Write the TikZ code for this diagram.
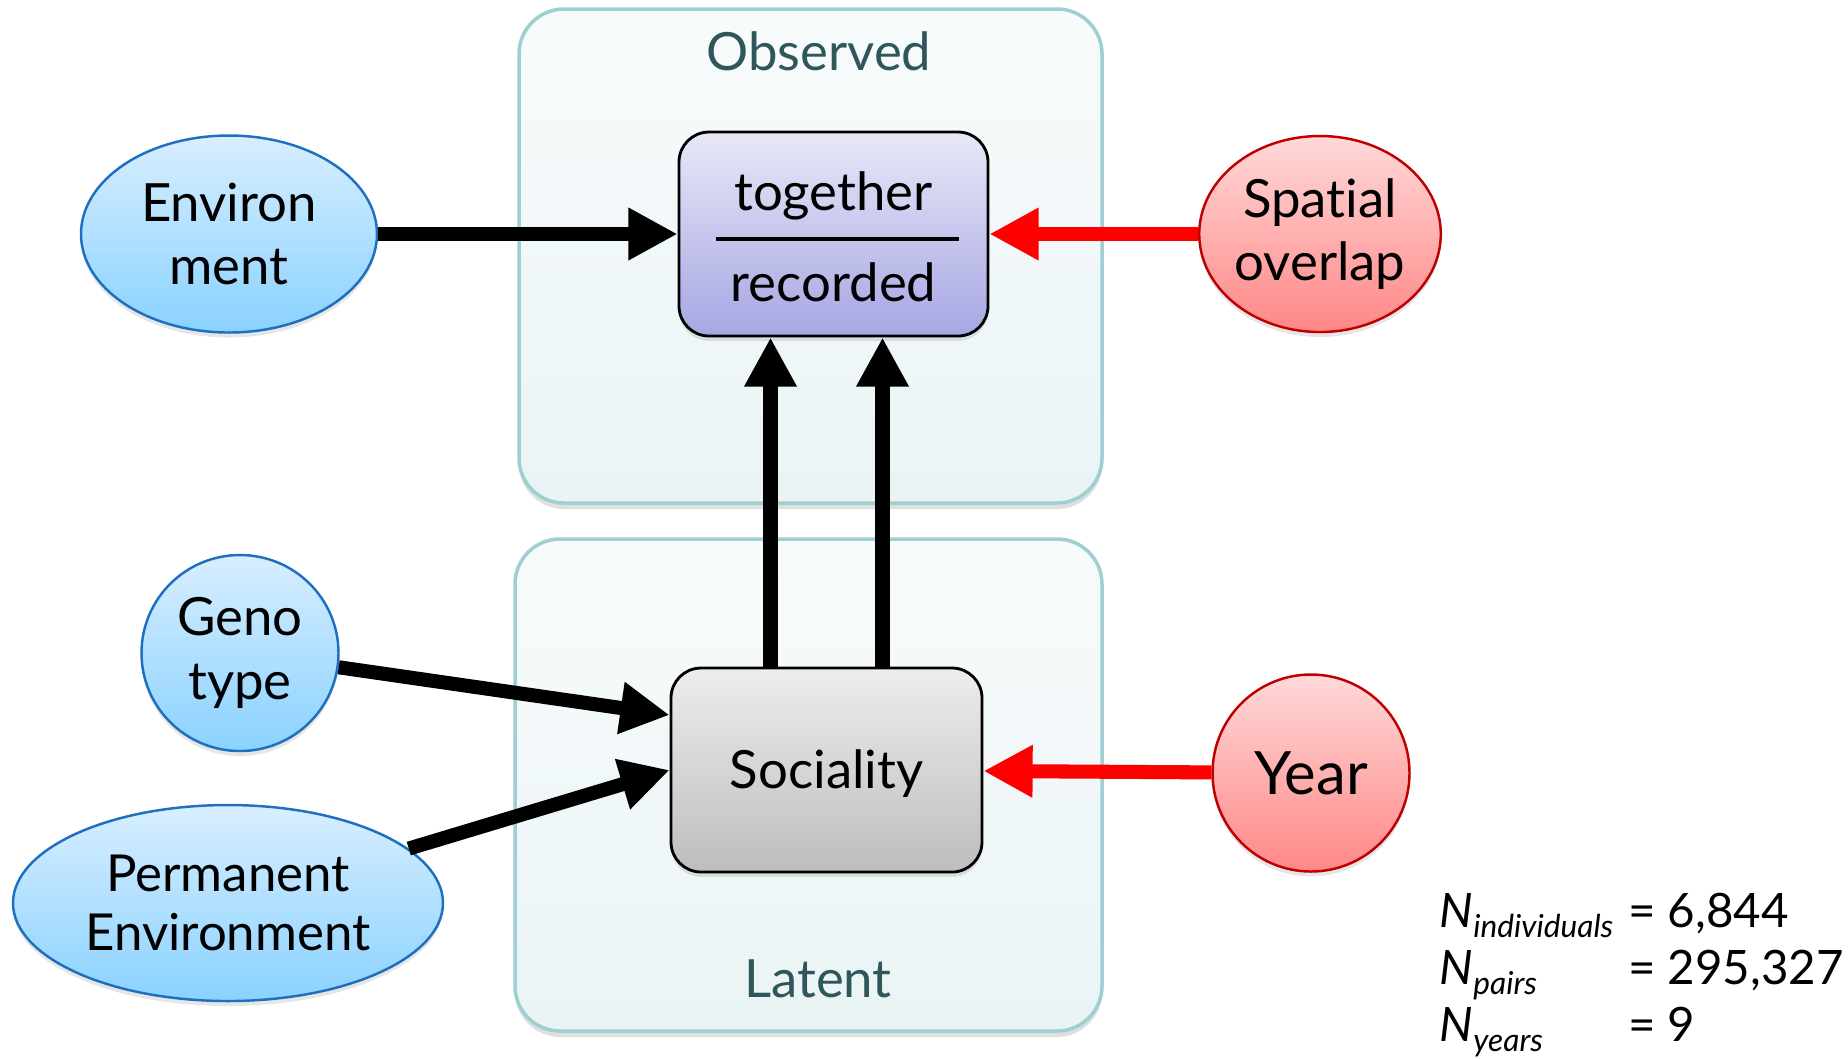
\documentclass[tikz,border=0pt]{standalone}
\usepackage{fontspec}
\setmainfont{Lato}[Ligatures={NoCommon,NoRare,NoContextual}, RawFeature={-liga;-clig;-dlig;-calt}]
\usetikzlibrary{shapes.geometric, arrows.meta, shadows, positioning}

\definecolor{panelline}{HTML}{9FCED3}
\definecolor{paneltop}{HTML}{F8FBFC}
\definecolor{panelbot}{HTML}{EAF4F5}
\definecolor{paneltext}{HTML}{2F575B}
\definecolor{bluetop}{HTML}{D8EEFF}
\definecolor{bluebot}{HTML}{8AD2FF}
\definecolor{blueline}{HTML}{1F6FC0}
\definecolor{redtop}{HTML}{FFD9D9}
\definecolor{redbot}{HTML}{FF8787}
\definecolor{redline}{HTML}{C00000}
\definecolor{obstop}{HTML}{E8E8F8}
\definecolor{obsbot}{HTML}{A6A6E4}
\definecolor{soctop}{HTML}{EDEDED}
\definecolor{socbot}{HTML}{BDBDBD}

\newcommand{\subtxt}[1]{\smash{\raisebox{-0.1cm}{\fontsize{9pt}{10pt}\selectfont\textit{#1}}}}

\begin{document}
\begin{tikzpicture}[
    panel/.style={rectangle, draw=panelline, line width=1pt, rounded corners=0.45cm, top color=paneltop, bottom color=panelbot, drop shadow={opacity=0.25, shadow xshift=0pt, shadow yshift=-0.06cm}},
    paneltitle/.style={text=paneltext, font=\fontsize{15pt}{18pt}\selectfont},
    varbox/.style={rectangle, draw=black, line width=0.8pt, rounded corners=0.3cm, drop shadow={opacity=0.2, shadow xshift=0pt, shadow yshift=-0.05cm}},
    cause/.style={ellipse, inner sep=0pt, line width=0.7pt, align=center, font=\fontsize{15pt}{18pt}\selectfont, drop shadow={opacity=0.2, shadow xshift=0pt, shadow yshift=-0.05cm}},
    bluecause/.style={cause, draw=blueline, top color=bluetop, bottom color=bluebot},
    redcause/.style={cause, draw=redline, top color=redtop, bottom color=redbot},
    txt/.style={font=\fontsize{15pt}{18pt}\selectfont},
    effect/.style={-{Triangle[length=14pt, width=14pt]}, line width=4pt},
    redeffect/.style={effect, red}
]
\useasboundingbox (0,0) rectangle (18.48,-10.58);

% Panels
\node[panel, minimum width=5.83cm, minimum height=4.94cm] (observed) at (8.105,-2.56) {};
\node[panel, minimum width=5.87cm, minimum height=4.92cm] (latent) at (8.085,-7.85) {};
\node[paneltitle] (obstitle) at (8.19,-0.51) {Observed};
\node[paneltitle] (lattitle) at (8.18,-9.79) {Latent};

% Response variables
\node[varbox, top color=obstop, bottom color=obsbot, minimum width=3.09cm, minimum height=2.04cm] (tog) at (8.335,-2.34) {};
\node[txt] (togtop) at ([yshift=0.38cm]tog.center) {together};
\node[txt] (togbot) at ([yshift=-0.48cm]tog.center) {recorded};
\draw[line width=1.2pt] ([xshift=-1.18cm, yshift=-0.05cm]tog.center) -- ([xshift=1.25cm, yshift=-0.05cm]tog.center);

\node[varbox, top color=soctop, bottom color=socbot, minimum width=3.11cm, minimum height=2.04cm] (soc) at (8.265,-7.70) {};
\node[txt] (soctxt) at ([yshift=-0.04cm]soc.center) {Sociality};

% Causes (left)
\node[bluecause, minimum width=2.96cm, minimum height=1.97cm] (env) at (2.29,-2.34) {\raisebox{-0.04cm}{Environ}\\\raisebox{-0.04cm}{ment}};
\node[bluecause, minimum width=1.97cm, minimum height=1.96cm] (geno) at (2.40,-6.53) {Geno\\type};
\node[bluecause, minimum width=4.30cm, minimum height=1.96cm, font=\fontsize{14.5pt}{17pt}\selectfont] (perm) at (2.28,-9.03) {Permanent\\Environment};

% Causes (right)
\node[redcause, minimum width=2.38cm, minimum height=1.96cm] (spatial) at (13.20,-2.34) {Spatial\\overlap};
\node[redcause, minimum width=1.97cm, minimum height=1.97cm, font=\fontsize{17pt}{20pt}\selectfont] (year) at (13.11,-7.73) {Year};

% Sample sizes
\node[anchor=base west, inner sep=0pt, font=\fontsize{13.5pt}{16.3pt}\selectfont] (counts) at (14.39,-9.27) {%
  \begin{tabular}[t]{@{}l@{\hspace{0.15cm}}l@{}}
  \textit{N}\subtxt{individuals} & = 6,844\\
  \textit{N}\subtxt{pairs} & = 295,327\\
  \textit{N}\subtxt{years} & = 9
  \end{tabular}};

% Effects
\draw[effect] (env) -- (tog);
\draw[redeffect] (spatial) -- (tog);
\draw[effect] ([xshift=-0.56cm]soc.north) -- ([xshift=-0.56cm]soc.north |- tog.south);
\draw[effect] ([xshift=0.56cm]soc.north) -- ([xshift=0.56cm]soc.north |- tog.south);
\draw[effect] (geno) -- ([yshift=0.55cm]soc.west);
\draw[effect] (perm) -- (soc.west);
\draw[redeffect] (year) -- (soc);

\end{tikzpicture}
\end{document}
